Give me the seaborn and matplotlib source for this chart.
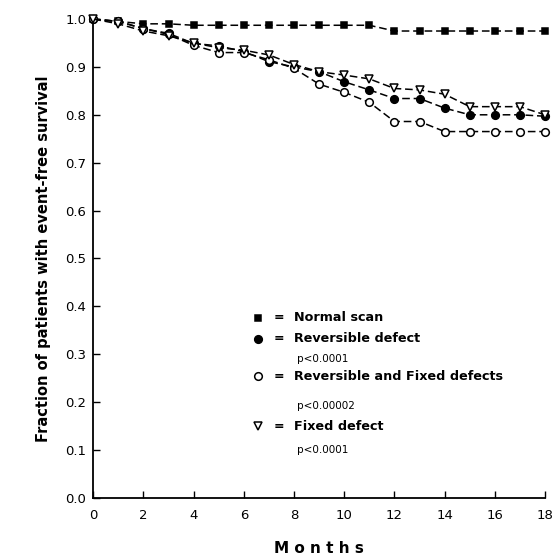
import numpy as np
import pandas as pd
import matplotlib
matplotlib.use("Agg")
import matplotlib.pyplot as plt
import seaborn as sns

# --- data ---
months = list(range(19))
normal_scan = [1.0, 0.995, 0.99, 0.99, 0.987, 0.987, 0.987, 0.987, 0.987, 0.987,
               0.987, 0.987, 0.975, 0.975, 0.975, 0.975, 0.975, 0.975, 0.975]
reversible = [1.0, 0.995, 0.98, 0.97, 0.949, 0.944, 0.932, 0.911, 0.90, 0.89,
              0.869, 0.852, 0.834, 0.834, 0.814, 0.80, 0.80, 0.80, 0.797]
rev_fixed = [1.0, 0.995, 0.98, 0.968, 0.945, 0.93, 0.93, 0.915, 0.897, 0.864,
             0.847, 0.826, 0.786, 0.786, 0.765, 0.765, 0.765, 0.765, 0.765]
fixed = [1.0, 0.99, 0.975, 0.965, 0.95, 0.94, 0.935, 0.925, 0.905, 0.89,
         0.883, 0.875, 0.855, 0.852, 0.843, 0.817, 0.817, 0.817, 0.80]

series_names = ["Normal scan", "Reversible defect", "Reversible and Fixed defects", "Fixed defect"]
series_vals = [normal_scan, reversible, rev_fixed, fixed]
p_values = [None, "p<0.0001", "p<0.00002", "p<0.0001"]

df = pd.DataFrame({
    "month": months * 4,
    "survival": sum(series_vals, []),
    "group": np.repeat(series_names, len(months)),
})

sns.set_style("ticks")
plt.rcParams["font.family"] = ["DejaVu Sans"]
plt.rcParams["text.color"] = "black"
plt.rcParams["axes.labelcolor"] = "black"

fig = plt.figure(figsize=(5.55, 5.6), dpi=100)
ax = fig.add_axes([0.168, 0.111, 0.814, 0.855])

styles = {
    "Normal scan": dict(marker="s", mfc="black", ms=5),
    "Reversible defect": dict(marker="o", mfc="black", ms=5.5),
    "Reversible and Fixed defects": dict(marker="o", mfc="white", ms=5.5),
    "Fixed defect": dict(marker="v", mfc="white", ms=6),
}

for name in series_names:
    sub = df[df["group"] == name]
    st = styles[name]
    sns.lineplot(data=sub, x="month", y="survival", ax=ax, color="black",
                 linewidth=1.1, linestyle=(0, (5, 2.5)), marker=st["marker"],
                 markersize=st["ms"], markerfacecolor=st["mfc"], markeredgecolor="black",
                 markeredgewidth=1.1, clip_on=False, zorder=3)

ax.set_xlim(0, 18)
ax.set_ylim(0, 1.0)
ax.set_xticks(range(0, 19, 2))
ax.set_yticks(np.arange(0, 1.01, 0.1))
ax.set_yticklabels([f"{v:.1f}" for v in np.arange(0, 1.01, 0.1)])
ax.tick_params(direction="in", length=5, width=1, labelsize=9.5, colors="black")
ax.tick_params(axis="x", pad=8)
ax.tick_params(axis="y", pad=5)
for s in ["top", "right"]:
    ax.spines[s].set_visible(False)
for s in ["left", "bottom"]:
    ax.spines[s].set_linewidth(1.3)
    ax.spines[s].set_color("black")

ax.set_xlabel("M o n t h s", fontsize=11, fontweight="bold", labelpad=14)
ax.set_ylabel("Fraction of patients with event-free survival", fontsize=10.5,
              fontweight="bold", labelpad=10)

# --- legend drawn as text block inside the axes ---
rows_main = [0.376, 0.332, 0.254, 0.149]
rows_p = [None, 0.290, 0.192, 0.100]
for name, ym, yp, pv in zip(series_names, rows_main, rows_p, p_values):
    st = styles[name]
    ax.plot([0.365], [ym], transform=ax.transAxes, marker=st["marker"], markersize=st["ms"],
            mfc=st["mfc"], mec="black", mew=1.1, linestyle="none", clip_on=False)
    ax.text(0.41, ym, "=", transform=ax.transAxes, fontsize=9, fontweight="bold",
            va="center", ha="center")
    ax.text(0.445, ym, name, transform=ax.transAxes, fontsize=9.2, fontweight="bold",
            va="center", ha="left")
    if pv:
        ax.text(0.45, yp, pv, transform=ax.transAxes, fontsize=7.5, va="center", ha="left")

fig.savefig("out.png", dpi=100)
